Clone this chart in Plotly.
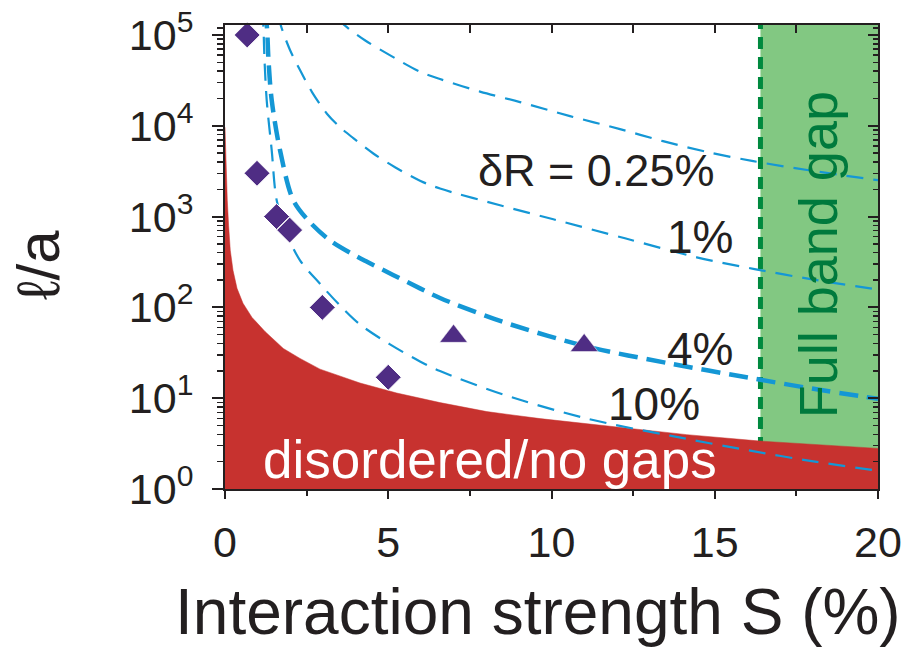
import plotly.graph_objects as go

# ---------------- data ----------------
# upper boundary of the "disordered / no gaps" region
red_S = [0, 0.018, 0.040, 0.070, 0.110, 0.162, 0.245, 0.368, 0.551, 0.827, 1.225, 1.786, 2.297,
         2.91, 4.135, 5.26, 6.58, 8.015, 9.65, 11.08, 14.14, 16.39, 20]
red_L = [9660, 5390, 2860, 1515, 802, 425, 256, 162, 111, 77.6, 54.3, 35.3, 27.4,
         20.9, 14.7, 11.4, 8.95, 7.12, 5.96, 5.21, 3.97, 3.37, 2.80]

# full band gap threshold
gap_S = 16.4

# dashed iso-deltaR curves
c025_S = [3.40, 3.776, 4.319, 4.953, 5.972, 6.585, 7.81, 9.035, 10.566, 12.098, 13.415, 14.753, 16.18, 18.07, 20.0]
c025_L = [154000, 118600, 85900, 62800, 39400, 32700, 23800, 18240, 12790, 9190, 6770, 5160, 4075, 3160, 2516]

c1_S = [1.623, 1.737, 1.991, 2.297, 2.665, 3.115, 3.522, 3.930, 4.542, 5.207, 5.972, 6.585, 8.423,
        10.055, 12.25, 14.447, 16.18, 18.07, 20.0]
c1_L = [167000, 118600, 68400, 41100, 23500, 13680, 9660, 7310, 4955, 3500, 2485, 2037, 1333,
        934, 577, 356, 266, 201, 157]

c4_S = [1.194, 1.277, 1.332, 1.430, 1.685, 2.092, 2.603, 3.216, 3.920, 4.349, 5.146, 5.972, 6.585,
        8.515, 11.087, 13.63, 16.17, 18.07, 20.0]
c4_L = [189000, 129500, 53000, 19190, 5390, 1514, 865, 548, 384, 318, 228, 162, 127,
        69.2, 37.1, 24.1, 16.5, 12.6, 9.84]

c10_S = [1.133, 1.173, 1.210, 1.277, 1.430, 1.583, 1.890, 2.297, 2.910, 3.522, 4.135, 5.054, 5.972,
         6.585, 8.515, 11.087, 13.63, 16.17, 18.07, 20.0]
c10_L = [189000, 129500, 53000, 19190, 5390, 1514, 650, 330, 182, 105, 64.9, 39.1, 25.4,
         19.9, 11.0, 5.96, 3.87, 2.61, 2.00, 1.59]

# measured points
diam_S = [0.68, 0.98, 1.58, 1.98, 2.98, 5.0]
diam_L = [100000, 3000, 1000, 710, 100, 17]
tri_S = [7.0, 11.0]
tri_L = [48, 38]

# labels
curve_labels = ["δR = 0.25%", "1%", "4%", "10%"]
x_ticks = [0, 5, 10, 15, 20]
y_ticks = [1, 10, 100, 1000, 10000, 100000]
y_ticktext = ["10<sup>%d</sup>" % i for i in range(6)]

# ---------------- styles ----------------
FONT = "Liberation Sans, Arial, Helvetica, sans-serif"
BLACK = "#231F20"
RED = "#C7322F"
GREEN_FILL = "#82C882"
GREEN_LINE = "#00893E"
GREEN_TEXT = "#007A3D"
BLUE = "#1497D5"
PURPLE = "#4F2D84"

X_RANGE = [0, 20]
Y_RANGE = [0, 5.11]

minor_y = [m * 10 ** k for k in range(0, 5) for m in range(2, 10)] + [120000]

fig = go.Figure()

# green dashed vertical line (band-gap threshold)
fig.add_trace(go.Scatter(x=[gap_S, gap_S], y=[1, 10 ** 5.2], mode="lines",
                         line=dict(color=GREEN_LINE, width=5, dash="12px,8px"),
                         hoverinfo="skip"))

# red disordered region: baseline below the axis, then boundary filled down to it
fig.add_trace(go.Scatter(x=[0, 20], y=[0.5, 0.5], mode="lines", line=dict(width=0, color=RED),
                         hoverinfo="skip"))
fig.add_trace(go.Scatter(x=red_S, y=red_L, mode="lines", fill="tonexty", fillcolor=RED,
                         line=dict(color=RED, width=0.5), hoverinfo="skip"))

# blue dashed curves
for xs, ys, w, d in [(c025_S, c025_L, 2.2, "17px,10px"),
                     (c1_S, c1_L, 2.2, "17px,10px"),
                     (c4_S, c4_L, 4.5, "19px,9px"),
                     (c10_S, c10_L, 2.2, "17px,10px")]:
    fig.add_trace(go.Scatter(x=xs, y=ys, mode="lines",
                             line=dict(color=BLUE, width=w, dash=d, shape="spline", smoothing=0.9),
                             hoverinfo="skip"))

# markers
fig.add_trace(go.Scatter(x=diam_S, y=diam_L, mode="markers", cliponaxis=False,
                         marker=dict(symbol="diamond", size=20, color=PURPLE,
                                     line=dict(color="white", width=1))))
fig.add_trace(go.Scatter(x=tri_S, y=tri_L, mode="markers", cliponaxis=False,
                         marker=dict(symbol="triangle-up", size=24, color=PURPLE,
                                     line=dict(color="white", width=0.5))))

# dummy trace for mirrored (inside) axes
fig.add_trace(go.Scatter(x=[10], y=[10], xaxis="x2", yaxis="y2", mode="markers",
                         marker=dict(opacity=0), hoverinfo="skip"))

# green band-gap region
fig.add_shape(type="rect", xref="x", yref="y domain", x0=gap_S, x1=20, y0=0, y1=1,
              fillcolor=GREEN_FILL, line=dict(width=0), layer="below")

# text annotations
ann = []
ann.append(dict(x=11.36, y=3.511, xref="x", yref="y", text=curve_labels[0], showarrow=False,
                font=dict(size=45, color=BLACK, family=FONT), xanchor="center", yanchor="middle"))
ann.append(dict(x=15.62, y=2.772, xref="x", yref="y", text=curve_labels[1], showarrow=False,
                font=dict(size=46, color=BLACK, family=FONT), xanchor="right", yanchor="middle"))
ann.append(dict(x=15.62, y=1.537, xref="x", yref="y", text=curve_labels[2], showarrow=False,
                font=dict(size=46, color=BLACK, family=FONT), xanchor="right", yanchor="middle"))
ann.append(dict(x=14.61, y=0.931, xref="x", yref="y", text=curve_labels[3], showarrow=False,
                font=dict(size=46, color=BLACK, family=FONT), xanchor="right", yanchor="middle"))
ann.append(dict(x=8.12, y=0.323, xref="x", yref="y", text="disordered/no gaps", showarrow=False,
                font=dict(size=53, color="white", family=FONT), xanchor="center", yanchor="middle"))
ann.append(dict(x=18.16, y=2.584, xref="x", yref="y", text="Full band gap", showarrow=False, textangle=-90,
                font=dict(size=54, color=GREEN_TEXT, family=FONT), xanchor="center", yanchor="middle"))
# axis titles
ann.append(dict(x=0.479, y=-0.265, xref="paper", yref="paper", text="Interaction strength S (%)",
                showarrow=False, font=dict(size=64, color=BLACK, family=FONT),
                xanchor="center", yanchor="middle"))
ann.append(dict(x=-0.285, y=0.483, xref="paper", yref="paper", text="ℓ/a", textangle=-90,
                showarrow=False, font=dict(size=60, color=BLACK, family=FONT),
                xanchor="center", yanchor="middle"))

axis_common = dict(showgrid=False, zeroline=False, showline=True, linecolor=BLACK, linewidth=2,
                   automargin=False)

fig.update_layout(
    template="none",
    width=916, height=649,
    margin=dict(l=225, r=38, t=25, b=160, pad=0),
    paper_bgcolor="white", plot_bgcolor="white",
    showlegend=False,
    hovermode=False,
    font=dict(family=FONT, color=BLACK),
    annotations=ann,
    xaxis=dict(range=X_RANGE, tickvals=x_ticks, ticks="outside", ticklen=8, tickwidth=2, tickcolor=BLACK,
               tickfont=dict(size=43, family=FONT, color=BLACK), ticklabelstandoff=6,
               ticklabeloverflow="allow",
               minor=dict(tickvals=[2.5, 7.5, 12.5, 17.5], ticks="outside", ticklen=5, tickwidth=2, tickcolor=BLACK),
               **axis_common),
    yaxis=dict(type="log", range=Y_RANGE, tickvals=y_ticks, ticktext=y_ticktext, ticks="outside", ticklen=11,
               tickwidth=2, tickcolor=BLACK, tickfont=dict(size=43, family=FONT, color=BLACK),
               ticklabelstandoff=10, ticklabeloverflow="allow",
               minor=dict(tickvals=minor_y, ticks="outside", ticklen=6, tickwidth=1.5, tickcolor=BLACK),
               **axis_common),
    xaxis2=dict(overlaying="x", side="top", anchor="y", range=X_RANGE, tickvals=[2.5 * i for i in range(9)],
                ticks="inside", ticklen=8, tickwidth=2, tickcolor=BLACK, showticklabels=False,
                **axis_common),
    yaxis2=dict(overlaying="y", side="right", anchor="x", type="log", range=Y_RANGE, tickvals=y_ticks,
                ticks="inside", ticklen=10, tickwidth=2, tickcolor=BLACK, showticklabels=False,
                minor=dict(tickvals=minor_y, ticks="inside", ticklen=5, tickwidth=1.5, tickcolor=BLACK),
                **axis_common),
)

# remove the default page margin so the figure sits at the window's top-left corner
fig.write_html("out.html",
               config={"displayModeBar": False, "staticPlot": True},
               post_script="document.body.style.margin='0';document.body.style.padding='0';"
                           "document.body.style.overflow='hidden';")
